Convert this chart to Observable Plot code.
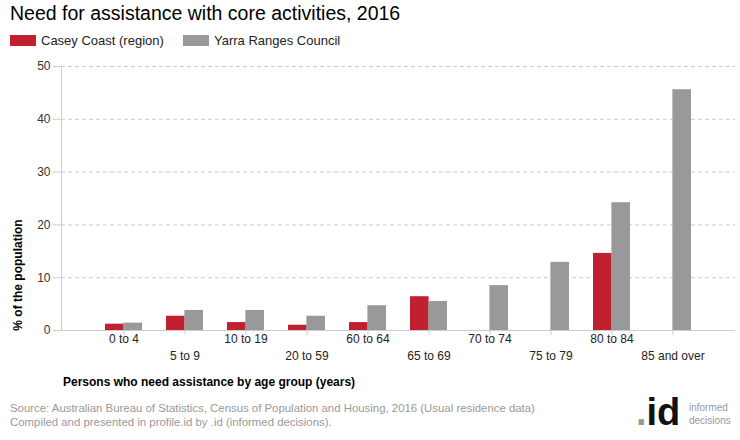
<!DOCTYPE html>
<html>
<head>
<meta charset="utf-8">
<script src="https://cdn.jsdelivr.net/npm/d3@7"></script>
<script src="https://cdn.jsdelivr.net/npm/@observablehq/plot@0.6"></script>
<style>
  html, body { margin: 0; padding: 0; background: #fff; }
  body { width: 740px; height: 440px; position: relative; font-family: "Liberation Sans", Arial, sans-serif; overflow: hidden; }
  .abs { position: absolute; white-space: nowrap; }
  #title { left: 10px; top: 2px; font-size: 19.5px; color: #000; }
  .sw { position: absolute; width: 26px; height: 11px; top: 35px; }
  .lg { top: 33px; font-size: 13px; color: #222; }
  #chart { position: absolute; left: 0; top: 55px; }
  #ylab { left: 18px; top: 275px; font-size: 12px; font-weight: bold; color: #000; transform: translate(-50%, -50%) rotate(-90deg); }
  #xlab { left: 63px; top: 375px; font-size: 12px; font-weight: bold; color: #000; }
  .src { left: 10px; font-size: 11.4px; color: #999; }
  #logo { left: 636px; top: 393px; font-size: 38px; line-height: 38px; font-weight: bold; color: #111; letter-spacing: 0px; }
  #logo span { color: #999; }
  .lt { left: 689px; font-size: 10px; color: #999; }
</style>
</head>
<body>
<div id="title" class="abs">Need for assistance with core activities, 2016</div>
<div class="sw" style="left:10px;background:#c0202f"></div>
<div class="abs lg" style="left:41px">Casey Coast (region)</div>
<div class="sw" style="left:183px;background:#999999"></div>
<div class="abs lg" style="left:214px">Yarra Ranges Council</div>
<div id="chart"></div>
<div id="ylab" class="abs">% of the population</div>
<div id="xlab" class="abs">Persons who need assistance by age group (years)</div>
<div class="abs src" style="top:402px">Source: Australian Bureau of Statistics, Census of Population and Housing, 2016 (Usual residence data)</div>
<div class="abs src" style="top:416px">Compiled and presented in profile.id by .id (informed decisions).</div>
<div id="logo" class="abs"><span>.</span>id</div>
<div class="abs lt" style="top:402px">informed</div>
<div class="abs lt" style="top:415px">decisions</div>
<script>
const categories = ["0 to 4","5 to 9","10 to 19","20 to 59","60 to 64","65 to 69","70 to 74","75 to 79","80 to 84","85 and over"];
const casey = [1.2, 2.7, 1.5, 1.0, 1.5, 6.4, null, null, 14.6, null];
const yarra = [1.4, 3.8, 3.8, 2.7, 4.7, 5.5, 8.5, 12.9, 24.2, 45.6];
const yTicks = [0, 10, 20, 30, 40, 50];

const rows = categories.map((c, i) => ({cat: c, casey: casey[i], yarra: yarra[i], i}));
const even = rows.filter(d => d.i % 2 === 0);
const odd = rows.filter(d => d.i % 2 === 1);

const half = 18.4;
const plot = Plot.plot({
  width: 740,
  height: 340,
  marginTop: 11,
  marginBottom: 65,
  marginLeft: 61,
  marginRight: 5,
  style: {fontFamily: "Liberation Sans, Arial, sans-serif", fontSize: "12px", background: "#fff", overflow: "visible"},
  x: {domain: categories, paddingInner: 0.4, paddingOuter: 0.7, axis: null},
  y: {domain: [0, 50], axis: null},
  marks: [
    Plot.gridY(yTicks.filter(d => d > 0), {stroke: "#cccccc", strokeOpacity: 1, strokeDasharray: "4,3"}),
    Plot.axisY({ticks: yTicks, tickSize: 8, tickPadding: 3, stroke: "#cccccc", fill: "#333", label: null, strokeOpacity: 1}),
    Plot.frame({anchor: "left", stroke: "#cccccc"}),
    Plot.barY(rows, {x: "cat", y: "casey", fill: "#c0202f", insetRight: half}),
    Plot.barY(rows, {x: "cat", y: "yarra", fill: "#999999", insetLeft: half}),
    Plot.ruleY([0], {stroke: "#cccccc"}),
    Plot.axisX({tickSize: 5, tickFormat: null, stroke: "#cccccc", strokeOpacity: 1, label: null}),
    Plot.text(even, {x: "cat", text: "cat", frameAnchor: "bottom", dy: 12, fill: "#222", fontSize: 12}),
    Plot.text(odd, {x: "cat", text: "cat", frameAnchor: "bottom", dy: 29, fill: "#222", fontSize: 12})
  ]
});
document.getElementById("chart").appendChild(plot);
</script>
</body>
</html>
